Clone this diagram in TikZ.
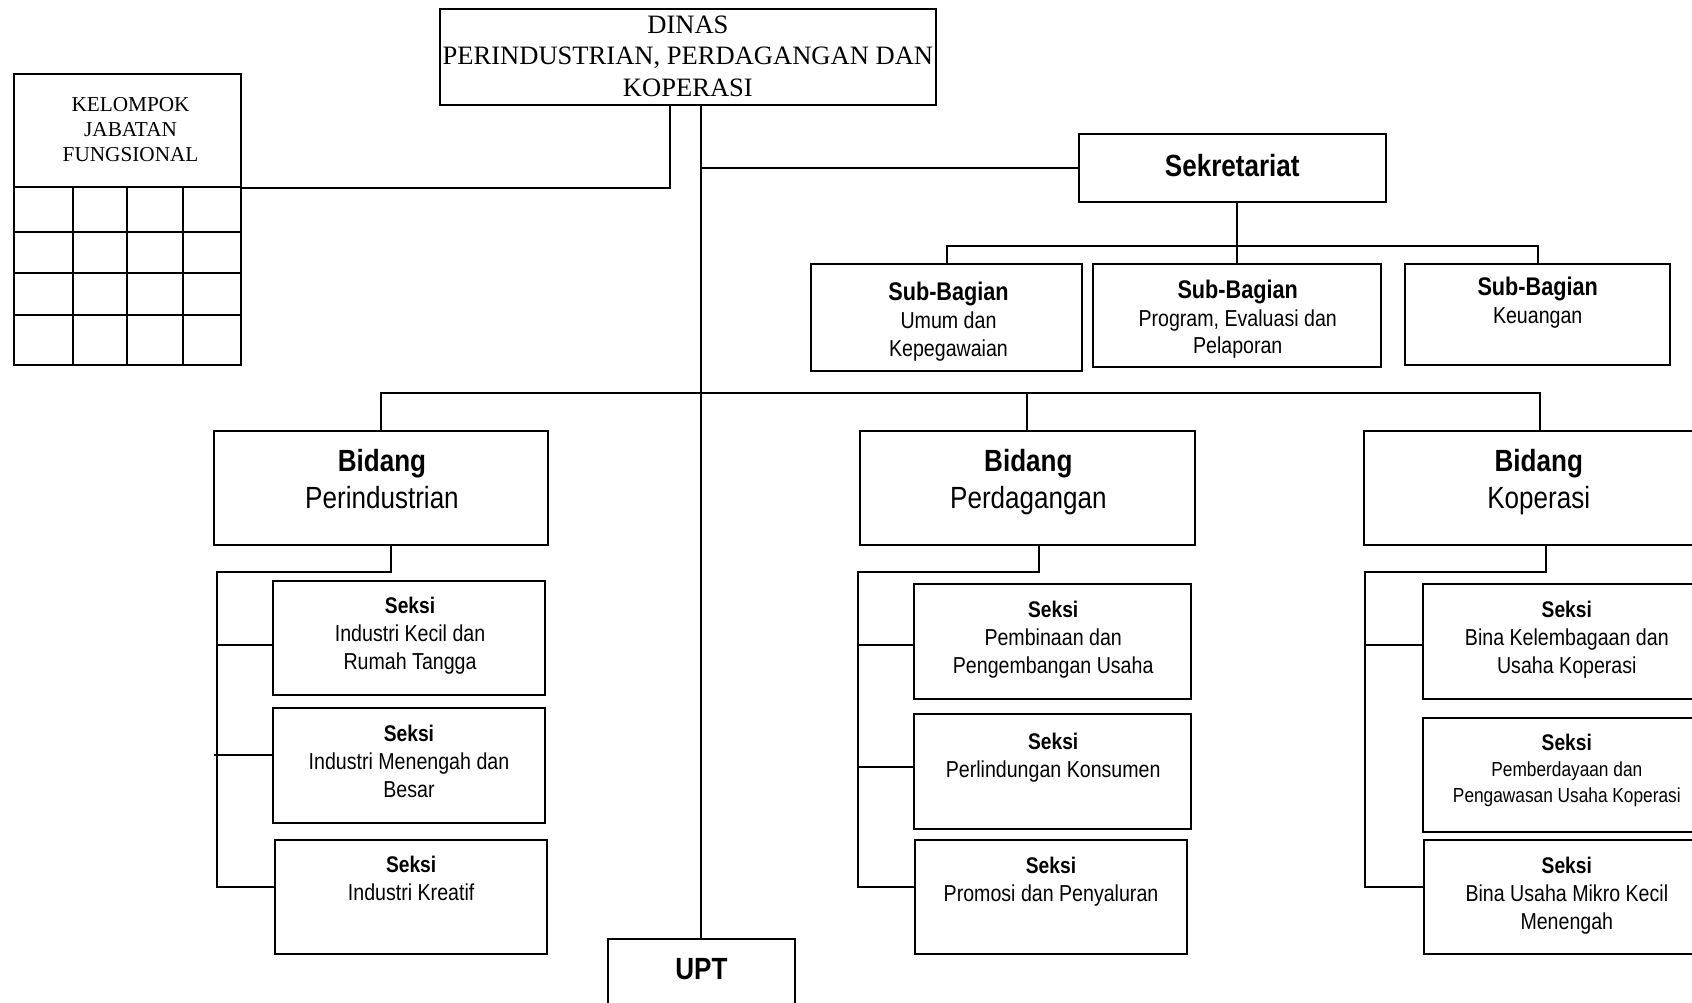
\documentclass[tikz,border=0pt]{standalone}
\usepackage{fontspec}
\setmainfont{Liberation Serif}
\newfontfamily\arialc[FakeStretch=0.85]{Liberation Sans}
\usetikzlibrary{fit}

% font sizes (one unit of the picture = 0.025cm = 0.709pt)
\newcommand\fDinas{\rmfamily\fontsize{17.5}{20.9}\selectfont}
\newcommand\fKel{\rmfamily\fontsize{14}{16.3}\selectfont}
\newcommand\fBig{\arialc\fontsize{20.2}{24.1}\selectfont}
\newcommand\fBody{\arialc\fontsize{15.2}{18.4}\selectfont}
\newcommand\fSmall{\arialc\fontsize{13.4}{17}\selectfont}
\newcommand\fSubB{\bfseries\fontsize{16.8}{18.4}\selectfont}
\newcommand\fSeksi{\bfseries\fontsize{14.9}{18.4}\selectfont}

\tikzset{
  box/.style={draw, line width=1.3pt, inner sep=0pt},
  lab/.style={inner sep=0pt, align=center},
  wire/.style={line width=1.3pt},
}

\begin{document}
\begin{tikzpicture}[x=0.025cm, y=-0.025cm]
\useasboundingbox (0,0) rectangle (1568,929);
\clip (0,0) rectangle (1568,929);
\fill[white] (0,0) rectangle (1568,929);

% ---- head office ----
\node[box, fit={(408,8) (867,97)}] (dinas) {};
\node[lab, font=\fDinas] (dinas-t) at (637.5,52) {DINAS\\PERINDUSTRIAN, PERDAGANGAN DAN\\KOPERASI};

% ---- functional group with its grid ----
\node[box, fit={(13,69) (223,173)}] (kjf) {};
\node[lab, font=\fKel] (kjf-t) at (121,120) {KELOMPOK\\JABATAN\\FUNGSIONAL};
\node[box, fit={(13,173) (223,338)}] (kgrid) {};
\foreach \y in {215,253,292} \draw[wire] (13,\y) -- (223,\y);
\foreach \x in {68,118,170} \draw[wire] (\x,173) -- (\x,338);

% ---- secretariat ----
\node[box, fit={(1000,124) (1284,187)}] (sek) {};
\node[lab, font=\fBig] (sek-t) at (1142,157) {\strut\bfseries Sekretariat};

\node[box, fit={(752,245) (1003,344)}] (sb1) {};
\node[lab, font=\fBody] (sb1-t) at (879,299) {{\fSubB\strut Sub-Bagian}\\Umum dan\\Kepegawaian\strut};
\node[box, fit={(1013,245) (1280,340)}] (sb2) {};
\node[lab, font=\fBody] (sb2-t) at (1147,297) {{\fSubB\strut Sub-Bagian}\\Program, Evaluasi dan\\Pelaporan\strut};
\node[box, fit={(1302,245) (1548,338)}] (sb3) {};
\node[lab, font=\fBody] (sb3-t) at (1425,282) {{\fSubB\strut Sub-Bagian}\\Keuangan\strut};

% ---- divisions ----
\node[box, fit={(198,399) (508,505)}] (bid1) {};
\node[lab, font=\fBig] (bid1-t) at (354,447.5) {{\bfseries\strut Bidang}\\Perindustrian\strut};
\node[box, fit={(797,399) (1107,505)}] (bid2) {};
\node[lab, font=\fBig] (bid2-t) at (953,447.5) {{\bfseries\strut Bidang}\\Perdagangan\strut};
\node[box, fit={(1264,399) (1590,505)}] (bid3) {};
\node[lab, font=\fBig] (bid3-t) at (1426,447.5) {{\bfseries\strut Bidang}\\Koperasi\strut};

% ---- sections: Perindustrian ----
\node[box, fit={(253,538) (505,644)}] (s11) {};
\node[lab, font=\fBody] (s11-t) at (380,589.5) {{\fSeksi\strut Seksi}\\Industri Kecil dan\\Rumah Tangga\strut};
\node[box, fit={(253,656) (505,763)}] (s12) {};
\node[lab, font=\fBody] (s12-t) at (379,708) {{\fSeksi\strut Seksi}\\Industri Menengah dan\\Besar\strut};
\node[box, fit={(255,778) (507,884)}] (s13) {};
\node[lab, font=\fBody] (s13-t) at (381,816) {{\fSeksi\strut Seksi}\\Industri Kreatif\strut};

% ---- sections: Perdagangan ----
\node[box, fit={(847,541) (1104,648)}] (s21) {};
\node[lab, font=\fBody] (s21-t) at (976,593) {{\fSeksi\strut Seksi}\\Pembinaan dan\\Pengembangan Usaha\strut};
\node[box, fit={(847,662) (1104,768)}] (s22) {};
\node[lab, font=\fBody] (s22-t) at (976,702) {{\fSeksi\strut Seksi}\\Perlindungan Konsumen\strut};
\node[box, fit={(848,778) (1100,884)}] (s23) {};
\node[lab, font=\fBody] (s23-t) at (974,817) {{\fSeksi\strut Seksi}\\Promosi dan Penyaluran\strut};

% ---- sections: Koperasi ----
\node[box, fit={(1319,541) (1585,648)}] (s31) {};
\node[lab, font=\fBody] (s31-t) at (1452,593) {{\fSeksi\strut Seksi}\\Bina Kelembagaan dan\\Usaha Koperasi\strut};
\node[box, fit={(1319,665) (1585,771)}] (s32) {};
\node[lab, font=\fSmall] (s32-t) at (1452,714) {{\fSeksi\strut Seksi}\\Pemberdayaan dan\\Pengawasan Usaha Koperasi\strut};
\node[box, fit={(1320,778) (1585,884)}] (s33) {};
\node[lab, font=\fBody] (s33-t) at (1452,830) {{\fSeksi\strut Seksi}\\Bina Usaha Mikro Kecil\\Menengah\strut};

% ---- technical unit ----
\node[box, fit={(563,870) (737,960)}] (upt) {};
\node[lab, font=\fBig] (upt-t) at (650,901) {\strut\bfseries UPT};

% ---- connectors ----
\coordinate (jf) at (621,97);
\draw[wire] (kjf.south east) -| (jf);
\draw[wire] (dinas.south -| upt.north) -- (upt.north);
\draw[wire] (sek.west) -- (sek.west -| upt.north);

\coordinate (sbus) at (1146,228);
\draw[wire] (sek.south -| sb2.north) -- (sb2.north);
\draw[wire] (sb1.north) |- (sbus) -| (sb3.north);

\coordinate (bbus) at (650,364);
\draw[wire] (bid1.north) |- (bbus) -| (bid3.north);
\draw[wire] (bbus -| bid2.north) -- (bid2.north);

% Perindustrian
\coordinate (p1) at (362,530);
\coordinate (p2) at (201,822);
\coordinate (p11) at (201,598);
\coordinate (p12) at (198,700);
\draw[wire] (bid1.south -| p1) -- (p1) -| (p2) -- (p2 -| s13.west);
\draw[wire] (p11) -- (p11 -| s11.west);
\draw[wire] (p12) -- (p12 -| s12.west);

% Perdagangan
\coordinate (q1) at (963,530);
\coordinate (q2) at (795,822);
\coordinate (q21) at (795,598);
\coordinate (q22) at (795,711);
\draw[wire] (bid2.south -| q1) -- (q1) -| (q2) -- (q2 -| s23.west);
\draw[wire] (q21) -- (q21 -| s21.west);
\draw[wire] (q22) -- (q22 -| s22.west);

% Koperasi
\coordinate (r1) at (1433,530);
\coordinate (r2) at (1265,822);
\coordinate (r31) at (1265,598);
\draw[wire] (bid3.south -| r1) -- (r1) -| (r2) -- (r2 -| s33.west);
\draw[wire] (r31) -- (r31 -| s31.west);
\end{tikzpicture}
\end{document}
